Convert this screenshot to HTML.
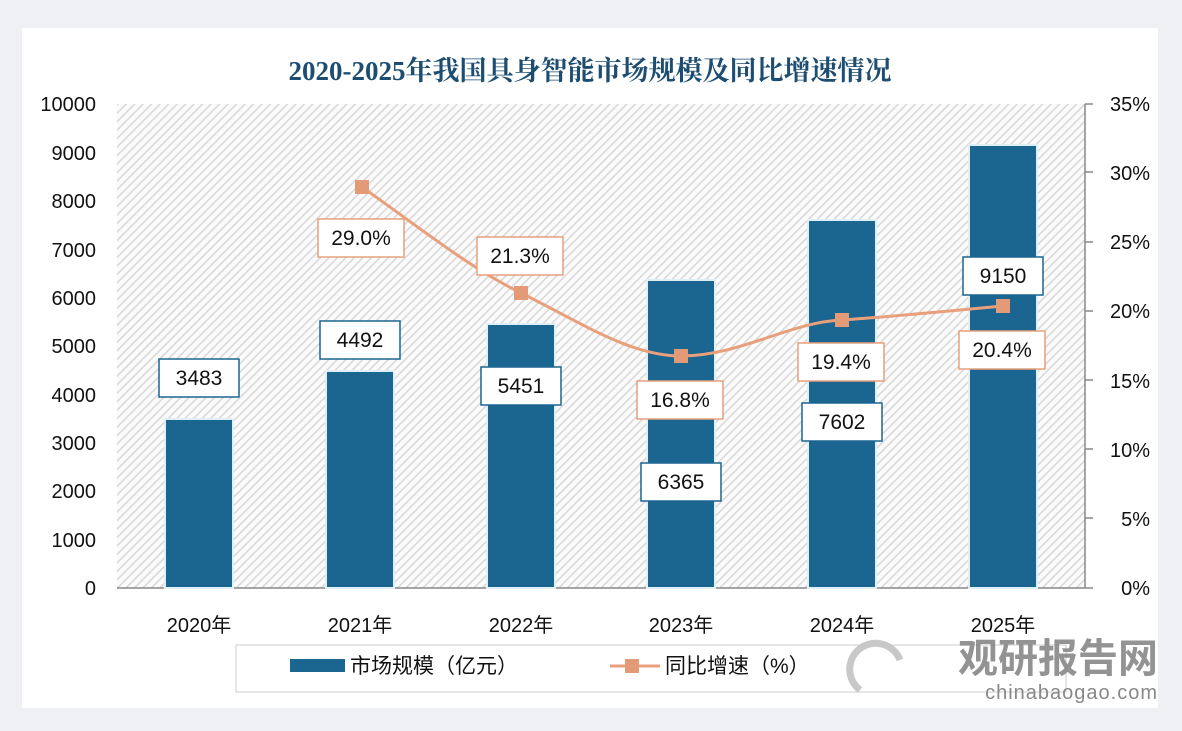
<!DOCTYPE html>
<html><head><meta charset="utf-8"><style>
body{margin:0;width:1182px;height:726px;background:#eef0f3;overflow:hidden;font-family:"Liberation Sans","Noto Sans CJK SC",sans-serif}
</style></head><body>
<svg width="1182" height="726" xmlns="http://www.w3.org/2000/svg" font-family="Liberation Sans, Noto Sans CJK SC, sans-serif">
<defs>
<pattern id="h" width="6" height="6" patternUnits="userSpaceOnUse" patternTransform="rotate(45)">
<rect width="6" height="6" fill="#fbfbfb"/><rect width="1.6" height="6" fill="#d9d9d9"/></pattern>
</defs>
<rect x="22" y="28" width="1136" height="680" fill="#fff"/>
<text x="590" y="80" text-anchor="middle" font-size="27" font-weight="bold" fill="#1d4e72" font-family="Liberation Serif, Noto Serif CJK SC, serif">2020-2025年我国具身智能市场规模及同比增速情况</text>
<rect x="117" y="104" width="968" height="484" fill="url(#h)"/>
<line x1="1085" y1="104" x2="1085" y2="588" stroke="#888" stroke-width="1.5"/>
<line x1="117" y1="588" x2="1085" y2="588" stroke="#888" stroke-width="1.5"/>
<g stroke="#888" stroke-width="1.5">
<line x1="1085" y1="104" x2="1093" y2="104"/><line x1="1085" y1="172" x2="1093" y2="172"/><line x1="1085" y1="242" x2="1093" y2="242"/><line x1="1085" y1="311" x2="1093" y2="311"/><line x1="1085" y1="380" x2="1093" y2="380"/><line x1="1085" y1="449" x2="1093" y2="449"/><line x1="1085" y1="518" x2="1093" y2="518"/><line x1="1085" y1="588" x2="1093" y2="588"/>
</g>
<g font-size="20" fill="#111" text-anchor="end">
<text x="96" y="111">10000</text><text x="96" y="160">9000</text><text x="96" y="208">8000</text><text x="96" y="257">7000</text><text x="96" y="305">6000</text><text x="96" y="353">5000</text><text x="96" y="402">4000</text><text x="96" y="450">3000</text><text x="96" y="498">2000</text><text x="96" y="547">1000</text><text x="96" y="595">0</text>
</g>
<g font-size="20" fill="#111" text-anchor="end">
<text x="1150" y="111">35%</text><text x="1150" y="180">30%</text><text x="1150" y="249">25%</text><text x="1150" y="318">20%</text><text x="1150" y="388">15%</text><text x="1150" y="457">10%</text><text x="1150" y="526">5%</text><text x="1150" y="595">0%</text>
</g>
<g fill="#1a6690" stroke="#dff0f8" stroke-width="2">
<rect x="165" y="419" width="68" height="169"/>
<rect x="326" y="371" width="68" height="217"/>
<rect x="487" y="324" width="68" height="264"/>
<rect x="647" y="280" width="68" height="308"/>
<rect x="808" y="220" width="68" height="368"/>
<rect x="969" y="145" width="68" height="443"/>
</g>
<path d="M362,187 C420,228 470,268 521,293 C580,322 630,356 681,356 C740,356 790,322 842,320 C900,316 960,310 1003,306" fill="none" stroke="#e8a07c" stroke-width="3"/>
<g fill="#e39a76">
<rect x="355" y="180" width="14" height="14"/><rect x="514" y="286" width="14" height="14"/><rect x="674" y="349" width="14" height="14"/><rect x="835" y="313" width="14" height="14"/><rect x="996" y="299" width="14" height="14"/>
</g>
<g font-size="21" fill="#111" text-anchor="middle">
<g fill="#fff" stroke="#1a6690" stroke-width="1.5">
<rect x="159" y="359" width="80" height="38"/><rect x="320" y="321" width="80" height="38"/><rect x="481" y="367" width="80" height="38"/><rect x="641" y="463" width="80" height="38"/><rect x="802" y="403" width="80" height="38"/><rect x="963" y="257" width="80" height="38"/>
</g>
<text x="199" y="385">3483</text><text x="360" y="347">4492</text><text x="521" y="393">5451</text><text x="681" y="489">6365</text><text x="842" y="429">7602</text><text x="1003" y="283">9150</text>
<g fill="#fff" stroke="#e8a07c" stroke-width="1.5">
<rect x="318" y="219" width="86" height="38"/><rect x="477" y="237" width="86" height="38"/><rect x="637" y="381" width="86" height="38"/><rect x="798" y="343" width="86" height="38"/><rect x="959" y="331" width="86" height="38"/>
</g>
<text x="361" y="245">29.0%</text><text x="520" y="263">21.3%</text><text x="680" y="407">16.8%</text><text x="841" y="369">19.4%</text><text x="1002" y="357">20.4%</text>
</g>
<g font-size="20" fill="#111" text-anchor="middle">
<text x="199" y="632">2020年</text><text x="360" y="632">2021年</text><text x="521" y="632">2022年</text><text x="681" y="632">2023年</text><text x="842" y="632">2024年</text><text x="1003" y="632">2025年</text>
</g>
<rect x="236" y="645" width="830" height="47" fill="#fff" stroke="#ccc"/>
<rect x="290" y="659" width="55" height="13" fill="#1a6690"/>
<text x="350" y="673" font-size="21" fill="#111">市场规模（亿元）</text>
<line x1="610" y1="666" x2="660" y2="666" stroke="#e8a07c" stroke-width="3"/>
<rect x="625" y="659" width="14" height="14" fill="#e39a76"/>
<text x="665" y="673" font-size="21" fill="#111">同比增速（%）</text>
<path d="M860,690 A26,26 0 1 1 900,660" fill="none" stroke="#c8c8c8" stroke-width="7"/>
<text x="1158" y="672" text-anchor="end" font-size="40" font-weight="bold" fill="#888" opacity="0.9">观研报告网</text>
<text x="1158" y="699" text-anchor="end" font-size="20" fill="#888" letter-spacing="1">chinabaogao.com</text>
</svg>
</body></html>
